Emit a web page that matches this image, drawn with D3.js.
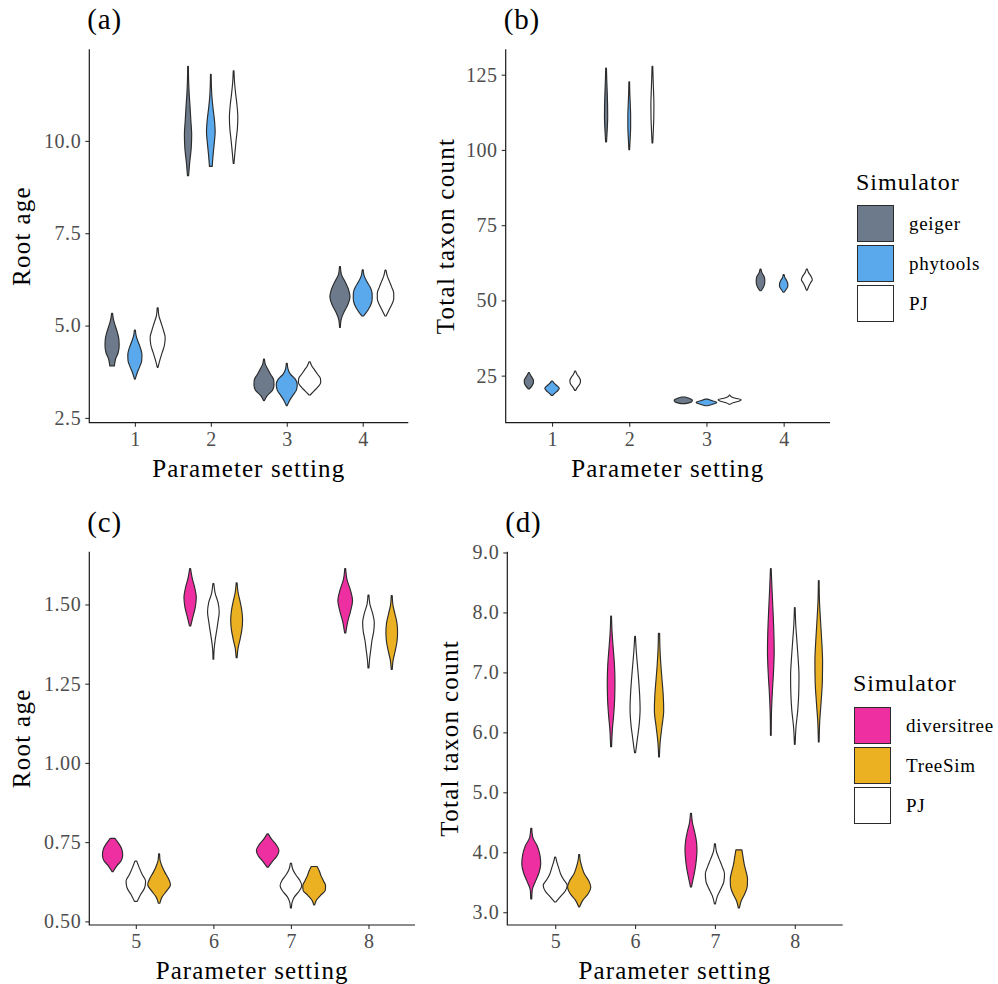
<!DOCTYPE html>
<html>
<head>
<meta charset="utf-8">
<script src="https://cdn.jsdelivr.net/npm/d3@7"></script>
<style>
  html, body { margin: 0; padding: 0; background: #fff; }
  svg text { font-family: "Liberation Serif", "DejaVu Serif", serif; }
</style>
</head>
<body>
<svg id="fig" width="998" height="984"></svg>
<script>
// ---- categories ----
const settingsTop = ["1", "2", "3", "4"];
const settingsBottom = ["5", "6", "7", "8"];
const simsTop = ["geiger", "phytools", "PJ"];           // legend + dodge order (top row)
const simsBottomLegend = ["diversitree", "TreeSim", "PJ"];
const simsBottomDodge = ["diversitree", "PJ", "TreeSim"];
const simColors = {
  geiger: "#6c7a8b", phytools: "#5aa9ec", PJ: "#ffffff",
  diversitree: "#ee2fa2", TreeSim: "#ecb122"
};

// ---- tick labels ----
const ticksA = [2.5, 5.0, 7.5, 10.0];
const ticksB = [25, 50, 75, 100, 125];
const ticksC = [0.50, 0.75, 1.00, 1.25, 1.50];
const ticksD = [3.0, 4.0, 5.0, 6.0, 7.0, 8.0, 9.0];

// ---- violin summaries: range (lo..hi) and relative density, bottom to top ----
const rootAgeTop = [
  { s: "1", sim: "geiger",   lo: 3.91, hi: 5.33, w: [0.20, 0.30, 0.53, 0.62, 0.60, 0.48, 0.30, 0.13, 0.04] },
  { s: "1", sim: "phytools", lo: 3.55, hi: 4.88, w: [0.03, 0.20, 0.42, 0.60, 0.62, 0.50, 0.30, 0.12, 0.04] },
  { s: "1", sim: "PJ",       lo: 3.87, hi: 5.48, w: [0.03, 0.20, 0.40, 0.60, 0.66, 0.50, 0.30, 0.10, 0.04] },
  { s: "2", sim: "geiger",   lo: 9.06, hi: 12.02, w: [0.05, 0.15, 0.28, 0.32, 0.25, 0.18, 0.10, 0.05, 0.03] },
  { s: "2", sim: "phytools", lo: 9.31, hi: 11.80, w: [0.12, 0.20, 0.30, 0.38, 0.32, 0.20, 0.10, 0.05, 0.03] },
  { s: "2", sim: "PJ",       lo: 9.39, hi: 11.90, w: [0.03, 0.12, 0.22, 0.33, 0.37, 0.30, 0.18, 0.08, 0.03] },
  { s: "3", sim: "geiger",   lo: 2.97, hi: 4.09, w: [0.04, 0.30, 0.75, 0.88, 0.85, 0.60, 0.35, 0.12, 0.04] },
  { s: "3", sim: "phytools", lo: 2.83, hi: 3.98, w: [0.03, 0.25, 0.55, 0.85, 0.92, 0.75, 0.30, 0.10, 0.04] },
  { s: "3", sim: "PJ",       lo: 3.12, hi: 4.02, w: [0.05, 0.40, 0.75, 0.98, 0.95, 0.70, 0.45, 0.20, 0.04] },
  { s: "4", sim: "geiger",   lo: 4.95, hi: 6.60, w: [0.03, 0.10, 0.35, 0.70, 0.88, 0.75, 0.45, 0.12, 0.04] },
  { s: "4", sim: "phytools", lo: 5.26, hi: 6.51, w: [0.08, 0.45, 0.72, 0.83, 0.82, 0.65, 0.35, 0.12, 0.04] },
  { s: "4", sim: "PJ",       lo: 5.26, hi: 6.50, w: [0.05, 0.30, 0.55, 0.72, 0.72, 0.55, 0.35, 0.15, 0.04] }
];

const taxaTop = [
  { s: "1", sim: "geiger",   lo: 20.6, hi: 26.0, w: [0.05, 0.25, 0.38, 0.40, 0.30, 0.15, 0.04] },
  { s: "1", sim: "phytools", lo: 18.4, hi: 23.2, w: [0.04, 0.25, 0.50, 0.62, 0.45, 0.20, 0.04] },
  { s: "1", sim: "PJ",       lo: 20.1, hi: 26.5, w: [0.04, 0.20, 0.40, 0.46, 0.35, 0.15, 0.04] },
  { s: "2", sim: "geiger",   lo: 102.7, hi: 127.2, w: [0.04, 0.10, 0.14, 0.13, 0.10, 0.06, 0.03] },
  { s: "2", sim: "phytools", lo: 100.1, hi: 122.6, w: [0.03, 0.08, 0.12, 0.12, 0.09, 0.05, 0.03] },
  { s: "2", sim: "PJ",       lo: 102.3, hi: 127.8, w: [0.03, 0.08, 0.12, 0.13, 0.10, 0.06, 0.03] },
  { s: "3", sim: "geiger",   lo: 15.7, hi: 17.9, w: [0.20, 0.70, 0.79, 0.60, 0.15] },
  { s: "3", sim: "phytools", lo: 15.0, hi: 17.2, w: [0.10, 0.60, 0.89, 0.50, 0.10] },
  { s: "3", sim: "PJ",       lo: 15.5, hi: 18.5, w: [0.05, 0.30, 0.80, 1.00, 0.50, 0.15, 0.03] },
  { s: "4", sim: "geiger",   lo: 53.2, hi: 60.4, w: [0.05, 0.25, 0.36, 0.37, 0.30, 0.12, 0.04] },
  { s: "4", sim: "phytools", lo: 52.7, hi: 58.6, w: [0.04, 0.22, 0.36, 0.35, 0.25, 0.10, 0.04] },
  { s: "4", sim: "PJ",       lo: 53.4, hi: 60.4, w: [0.04, 0.15, 0.30, 0.47, 0.35, 0.15, 0.04] }
];

const rootAgeBottom = [
  { s: "5", sim: "diversitree", lo: 0.657, hi: 0.762, w: [0.05, 0.35, 0.75, 0.87, 0.80, 0.55, 0.20] },
  { s: "5", sim: "PJ",          lo: 0.563, hi: 0.690, w: [0.12, 0.40, 0.75, 0.84, 0.55, 0.30, 0.08] },
  { s: "5", sim: "TreeSim",     lo: 0.557, hi: 0.713, w: [0.06, 0.25, 0.65, 0.98, 0.80, 0.50, 0.25, 0.08, 0.04] },
  { s: "6", sim: "diversitree", lo: 1.432, hi: 1.613, w: [0.05, 0.25, 0.45, 0.53, 0.40, 0.18, 0.04] },
  { s: "6", sim: "PJ",          lo: 1.327, hi: 1.566, w: [0.03, 0.06, 0.15, 0.28, 0.40, 0.50, 0.40, 0.15, 0.04] },
  { s: "6", sim: "TreeSim",     lo: 1.332, hi: 1.568, w: [0.04, 0.12, 0.30, 0.45, 0.51, 0.45, 0.30, 0.12, 0.04] },
  { s: "7", sim: "diversitree", lo: 0.671, hi: 0.776, w: [0.05, 0.40, 0.80, 0.97, 0.75, 0.35, 0.05] },
  { s: "7", sim: "PJ",          lo: 0.542, hi: 0.683, w: [0.04, 0.10, 0.30, 0.70, 0.93, 0.75, 0.40, 0.15, 0.05] },
  { s: "7", sim: "TreeSim",     lo: 0.552, hi: 0.673, w: [0.04, 0.20, 0.55, 0.95, 0.98, 0.80, 0.60, 0.45, 0.25] },
  { s: "8", sim: "diversitree", lo: 1.410, hi: 1.613, w: [0.05, 0.20, 0.45, 0.63, 0.45, 0.15, 0.04] },
  { s: "8", sim: "PJ",          lo: 1.300, hi: 1.530, w: [0.04, 0.10, 0.20, 0.30, 0.45, 0.50, 0.35, 0.12, 0.04] },
  { s: "8", sim: "TreeSim",     lo: 1.295, hi: 1.528, w: [0.04, 0.12, 0.30, 0.45, 0.50, 0.45, 0.28, 0.10, 0.04] }
];

const taxaBottom = [
  { s: "5", sim: "diversitree", lo: 3.22, hi: 4.40, w: [0.04, 0.08, 0.35, 0.65, 0.79, 0.72, 0.50, 0.12, 0.04] },
  { s: "5", sim: "PJ",          lo: 3.17, hi: 3.92, w: [0.04, 0.45, 0.85, 1.00, 0.70, 0.45, 0.30, 0.15, 0.04] },
  { s: "5", sim: "TreeSim",     lo: 3.09, hi: 3.96, w: [0.04, 0.30, 0.75, 0.97, 0.80, 0.45, 0.25, 0.10, 0.04] },
  { s: "6", sim: "diversitree", lo: 5.76, hi: 7.94, w: [0.04, 0.10, 0.22, 0.30, 0.32, 0.28, 0.18, 0.08, 0.03] },
  { s: "6", sim: "PJ",          lo: 5.66, hi: 7.60, w: [0.04, 0.20, 0.35, 0.42, 0.38, 0.30, 0.20, 0.10, 0.03] },
  { s: "6", sim: "TreeSim",     lo: 5.59, hi: 7.65, w: [0.03, 0.10, 0.25, 0.39, 0.35, 0.25, 0.15, 0.08, 0.05] },
  { s: "7", sim: "diversitree", lo: 3.42, hi: 4.65, w: [0.04, 0.20, 0.35, 0.45, 0.50, 0.45, 0.30, 0.12, 0.04] },
  { s: "7", sim: "PJ",          lo: 3.14, hi: 4.14, w: [0.04, 0.20, 0.50, 0.75, 0.80, 0.60, 0.35, 0.12, 0.04] },
  { s: "7", sim: "TreeSim",     lo: 3.07, hi: 4.04, w: [0.04, 0.20, 0.50, 0.70, 0.72, 0.60, 0.45, 0.35, 0.25] },
  { s: "8", sim: "diversitree", lo: 5.95, hi: 8.73, w: [0.03, 0.05, 0.12, 0.22, 0.28, 0.25, 0.18, 0.10, 0.03] },
  { s: "8", sim: "PJ",          lo: 5.80, hi: 8.08, w: [0.03, 0.10, 0.25, 0.33, 0.35, 0.28, 0.18, 0.08, 0.03] },
  { s: "8", sim: "TreeSim",     lo: 5.84, hi: 8.53, w: [0.03, 0.08, 0.20, 0.30, 0.32, 0.25, 0.15, 0.06, 0.03] }
];

// ---- drawing ----
const svg = d3.select("#fig");
const INK = "#1a1a1a";
const TICK_TEXT = "#4d4d4d";
const OUTLINE = "#2b2b2b";

function drawPanel(opt) {
  const { box, data, settings, dodge, ticks, fmt, tag, ytitle, ytitleX } = opt;
  const g = svg.append("g");

  // y domain: data range with 5% expansion either side
  const lo = d3.min(data, d => d.lo), hi = d3.max(data, d => d.hi);
  const pad = (hi - lo) * 0.05;
  const y = d3.scaleLinear().domain([lo - pad, hi + pad]).range([box.bottom, box.top]);
  const x = d3.scalePoint().domain(settings).range([box.left, box.right]).padding(0.6);
  const step = x.step();
  const sub = d3.scalePoint().domain(dodge).range([-0.3 * step, 0.3 * step]);
  const halfMax = 0.15 * step;

  const area = d3.area()
    .curve(d3.curveMonotoneY)
    .y(p => y(p.v));

  data.forEach(d => {
    const cx = x(d.s) + sub(d.sim);
    const n = d.w.length;
    const pts = d.w.map((wi, i) => ({ v: d.lo + (d.hi - d.lo) * i / (n - 1), w: wi }));
    area.x0(p => cx - p.w * halfMax).x1(p => cx + p.w * halfMax);
    g.append("path")
      .attr("d", area(pts))
      .attr("fill", simColors[d.sim])
      .attr("stroke", OUTLINE)
      .attr("stroke-width", 1.15)
      .attr("stroke-linejoin", "round");
  });

  // y axis
  const yAxis = d3.axisLeft(y).tickValues(ticks).tickFormat(fmt).tickSize(4).tickPadding(4);
  const ya = g.append("g").attr("transform", `translate(${box.left},0)`).call(yAxis);
  ya.select(".domain").remove();
  ya.selectAll(".tick line").attr("stroke", "#333").attr("stroke-width", 1.1);
  ya.selectAll(".tick text").attr("fill", TICK_TEXT).attr("font-size", 20)
    .attr("letter-spacing", "0.6px")
    .attr("font-family", "Liberation Serif, serif");

  // x axis
  const xAxis = d3.axisBottom(x).tickSize(4).tickPadding(5);
  const xa = g.append("g").attr("transform", `translate(0,${box.bottom})`).call(xAxis);
  xa.select(".domain").remove();
  xa.selectAll(".tick line").attr("stroke", "#333").attr("stroke-width", 1.1);
  xa.selectAll(".tick text").attr("fill", TICK_TEXT).attr("font-size", 20)
    .attr("font-family", "Liberation Serif, serif");

  // axis lines
  g.append("path")
    .attr("d", `M${box.left},${box.top}V${box.bottom}H${box.right}`)
    .attr("fill", "none").attr("stroke", INK).attr("stroke-width", 1.2);

  // panel tag
  g.append("text").attr("x", box.left - 2).attr("y", box.top - 20)
    .attr("font-size", 29).attr("letter-spacing", "0.8px").attr("fill", "#000").text(tag);

  // axis titles
  g.append("text")
    .attr("x", (box.left + box.right) / 2).attr("y", box.bottom + 54)
    .attr("text-anchor", "middle").attr("font-size", 25).attr("letter-spacing", "1.1px")
    .attr("fill", "#000")
    .text("Parameter setting");
  g.append("text")
    .attr("transform", `translate(${ytitleX},${(box.top + box.bottom) / 2}) rotate(-90)`)
    .attr("text-anchor", "middle").attr("font-size", 25).attr("letter-spacing", "1.3px")
    .attr("fill", "#000")
    .text(ytitle);
}

function drawLegend(opt) {
  const { x0, titleY, keyY, sims } = opt;
  const g = svg.append("g");
  g.append("text").attr("x", x0 - 1).attr("y", titleY)
    .attr("font-size", 24).attr("letter-spacing", "1px").attr("fill", "#000").text("Simulator");
  const keys = g.selectAll("g.key").data(sims).join("g")
    .attr("transform", (d, i) => `translate(${x0},${keyY + i * 40})`);
  keys.append("rect").attr("x", 0.5).attr("y", 0.5).attr("width", 36).attr("height", 36)
    .attr("fill", d => simColors[d]).attr("stroke", OUTLINE).attr("stroke-width", 1);
  keys.append("text").attr("x", 52).attr("y", 18.5).attr("dy", "0.35em")
    .attr("font-size", 19).attr("letter-spacing", "0.7px").attr("fill", "#000").text(d => d);
}

drawPanel({
  box: { left: 89.3, right: 408.3, top: 49.3, bottom: 422.7 },
  data: rootAgeTop, settings: settingsTop, dodge: simsTop,
  ticks: ticksA, fmt: d3.format(".1f"), tag: "(a)", ytitle: "Root age", ytitleX: 30
});
drawPanel({
  box: { left: 505.7, right: 830, top: 49.3, bottom: 422.7 },
  data: taxaTop, settings: settingsTop, dodge: simsTop,
  ticks: ticksB, fmt: d3.format("d"), tag: "(b)", ytitle: "Total taxon count", ytitleX: 454
});
drawPanel({
  box: { left: 89.3, right: 415, top: 551.7, bottom: 925 },
  data: rootAgeBottom, settings: settingsBottom, dodge: simsBottomDodge,
  ticks: ticksC, fmt: d3.format(".2f"), tag: "(c)", ytitle: "Root age", ytitleX: 30
});
drawPanel({
  box: { left: 507.3, right: 842.7, top: 551.7, bottom: 925 },
  data: taxaBottom, settings: settingsBottom, dodge: simsBottomDodge,
  ticks: ticksD, fmt: d3.format(".1f"), tag: "(d)", ytitle: "Total taxon count", ytitleX: 458
});

drawLegend({ x0: 857, titleY: 190, keyY: 205, sims: simsTop });
drawLegend({ x0: 854, titleY: 691, keyY: 707, sims: simsBottomLegend });
</script>
</body>
</html>
